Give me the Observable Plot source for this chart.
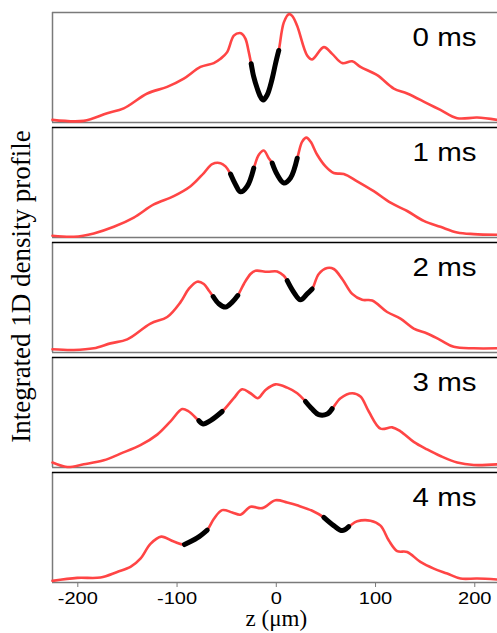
<!DOCTYPE html>
<html>
<head>
<meta charset="utf-8">
<script src="https://cdn.jsdelivr.net/npm/d3@7"></script>
<script src="https://cdn.jsdelivr.net/npm/@observablehq/plot@0.6"></script>
<style>
html, body { margin: 0; padding: 0; background: #fff; }
#chart { width: 497px; height: 633px; overflow: hidden; }
</style>
</head>
<body>
<div id="chart"></div>
<script>
// ---- data ----
const times = [0, 1, 2, 3, 4];
const timeLabels = ["0 ms", "1 ms", "2 ms", "3 ms", "4 ms"];
const xTicks = [-200, -100, 0, 100, 200];

const z0 = [-225.5,-194,-170.4,-153.7,-130,-110,-93.2,-76.4,-63,-56.2,-49.5,-42.8,-36.8,-34.4,-31,-27.7,-25.3,-22.7,-19.2,-15.9,-13.2,-9.2,-4.1,-0.8,2.5,7.6,12.6,16,21,31.1,36.2,47.9,56.3,66.4,76.5,84.8,101.7,118.4,131.9,152,165.4,182.3,202.4,222.6];
const d0 = [2.4,1.5,8.4,12.9,26.4,32.4,39.9,50.5,54,57.9,64,79,81.4,80.4,76,64,53.4,41.4,30.9,23.4,20.5,25,40,53.4,65.5,91,98.5,97,88,61,57.4,68.5,62.4,54,55.6,50.5,43,30.9,26.4,17.4,11.4,3.9,4.5,2.4];

const z1 = [-225.5,-204,-183.9,-163.7,-143.6,-123.4,-103.3,-86.4,-73,-64.6,-56.2,-51.2,-46.1,-41.1,-36.1,-29.3,-22.7,-17.6,-12.6,-7.6,-4.1,0.9,7.6,14.3,21.1,26.1,30.4,34.5,41.2,49.6,57.9,68,81.5,98.2,115.1,131.9,148.6,165.4,182.3,199,222.6];
const d1 = [1.6,0.7,3.7,9.7,18.1,30.1,37.6,46.6,58.6,66.7,67.6,64.6,57.7,48.2,41.5,46.6,63.1,75.2,79.1,72.1,67.6,57.2,49.6,54.1,72.1,87.2,90.8,87.2,75.2,64.6,58.6,57.7,51.1,42.1,31.6,24.1,15.1,9.7,4.6,3.1,2.5];

const z2 = [-225.5,-204,-183.9,-167.1,-150.2,-126.8,-109.9,-96.5,-88.2,-79.7,-73,-68,-63.6,-57.9,-51.2,-44.4,-38.8,-32.7,-26,-21,-9.2,0.9,7.6,11,17.6,24.4,31.1,36.2,42.8,51.3,57.9,66.4,76.5,86.5,96.6,111.7,125.1,138.5,152,165.4,178.8,199,222.6];
const d2 = [2.9,2.3,3.8,8.3,11.9,26.3,32.3,45.8,57.8,64.4,62.3,56.3,50.9,44.3,41.3,45.8,51.8,62.3,71.4,74.3,73.4,73.7,69.8,65.3,54.8,47.9,53.3,57.8,71.4,76.8,75.9,66.9,53.3,47.9,47.3,36.8,30.8,21.8,17.3,11.3,5.2,3.8,3.8];

const z3 = [-225.5,-210.7,-194,-173.8,-157,-136.9,-120,-106.6,-94.8,-88.2,-78.1,-73.7,-66.3,-54.5,-42.8,-34.4,-26,-18.6,-10.9,-0.8,11,21.1,29.4,36.2,42.8,51.3,56.3,64.7,76.5,84.8,93.2,105,116.8,125.1,138.5,152,165.4,182.3,199,222.6];
const d3v = [4.5,0.5,2.9,6.5,12.6,20.3,29.9,41.9,53.1,50.9,42.6,39.6,42.6,50.9,63,71.1,67.5,63,70.5,75.6,72.6,67.5,60,53.1,48,48.6,53.4,63,67.5,64.5,50.9,35.3,36.5,32.9,23.3,16.4,10.4,4.5,2.3,2.9];

const z4 = [-225.5,-200.6,-177.1,-160.3,-146.9,-136.9,-126.8,-116,-103.3,-92.5,-79.7,-69.6,-63,-54.5,-44.4,-36.1,-26,-14.2,-0.8,11,22.7,36.2,47.9,57.9,66.4,73,81.5,94.9,105,113.4,121.8,131.9,145.2,158.7,172.2,185.6,202.4,222.6];
const d4 = [1.5,4.2,4.5,9.6,14.1,21.6,35.1,41.7,37.2,34.5,40.5,47.7,57.7,65.8,63.7,61.6,68.8,67.6,74.8,72.7,69.7,65.2,59.2,51.7,47.2,50.8,55.6,56.2,51.7,38.2,28.6,27.7,18.7,12.6,8.1,3.6,3.6,2.7];

// dark-soliton dip ranges (z, µm) drawn in black
const dips0 = [[-25.3, 2.5]];
const dips1 = [[-46.1, -22.7], [-4.1, 21.1]];
const dips2 = [[-63.6, -38.8], [11, 36.2]];
const dips3 = [[-78.1, -54.5], [29.4, 56.3]];
const dips4 = [[-92.5, -69.6], [47.9, 73]];

// ---- build tables ----
const zs = [z0, z1, z2, z3, z4];
const ds = [d0, d1, d2, d3v, d4];
const dips = [dips0, dips1, dips2, dips3, dips4];

const rows = [];
const blackRows = [];
times.forEach((t, i) => {
  zs[i].forEach((z, j) => rows.push({t, z, v: ds[i][j]}));
  dips[i].forEach(([a, b], k) => {
    zs[i].forEach((z, j) => {
      if (z >= a - 1e-6 && z <= b + 1e-6) blackRows.push({t, seg: `${t}-${k}`, z, v: ds[i][j]});
    });
  });
});
const labelRows = times.map((t, i) => ({t, label: timeLabels[i]}));

const xDomain = [-225.5, 222.9];
const yDomain = [0, 100];
const grey = "#7a7a7a";

const plot = Plot.plot({
  width: 497,
  height: 633,
  marginLeft: 52,
  marginRight: 0,
  marginTop: 10,
  marginBottom: 49,
  style: {fontFamily: "'Liberation Sans', Arial, sans-serif", fontSize: "17px", color: "#000", background: "#fff", overflow: "visible"},
  x: {domain: xDomain, ticks: xTicks, tickSize: 5, tickPadding: 4, label: null, tickFormat: d => String(d)},
  y: {domain: yDomain, axis: null},
  fy: {domain: times, axis: null, paddingInner: 0.041, paddingOuter: 0},
  marks: [
    Plot.ruleY([0], {stroke: grey, strokeWidth: 1.5}),
    Plot.ruleX([xDomain[0]], {stroke: grey, strokeWidth: 1.5}),
    Plot.ruleY(times.map(t => ({t})), {y: () => yDomain[1], fy: "t", stroke: d => d.t === 0 ? grey : "#000", strokeWidth: 1.5}),
    Plot.line(rows, {x: "z", y: "v", fy: "t", stroke: "#ff4545", strokeWidth: 2.6, curve: "catmull-rom"}),
    Plot.line(blackRows, {x: "z", y: "v", fy: "t", z: "seg", stroke: "#000", strokeWidth: 5, strokeLinecap: "round", curve: "catmull-rom"}),
    Plot.text(labelRows, {x: () => 169.5, y: () => 77, fy: "t", text: "label", fontSize: 25, textAnchor: "middle", fill: "#000"}),
    Plot.text([{t: 2}], {x: () => -256.5, y: () => 60, fy: "t", text: () => "Integrated 1D density profile", rotate: -90, fontSize: 27, fontFamily: "'Liberation Serif', 'Times New Roman', serif", textAnchor: "middle", fill: "#000"}),
    Plot.text([{t: 4}], {x: () => 0, y: () => -33, fy: "t", text: () => "z (μm)", fontSize: 23, fontFamily: "'Liberation Serif', 'Times New Roman', serif", textAnchor: "middle", fill: "#000"})
  ]
});

document.getElementById("chart").appendChild(plot);

// grey tick marks
plot.querySelectorAll('[aria-label="x-axis tick"], [aria-label="x-axis tick"] path').forEach(el => el.setAttribute("stroke", grey));

// horizontal stretch of the sans-serif texts, as in the reference
const stretch = 1.18;
Array.from(plot.querySelectorAll("text")).forEach(el => {
  const txt = el.textContent.replace("−", "-");
  if (!(/ms$/.test(txt) || /^-?\d+$/.test(txt))) return;
  const g = document.createElementNS("http://www.w3.org/2000/svg", "g");
  el.parentNode.insertBefore(g, el);
  g.appendChild(el);
  const b = g.getBBox();
  const cx = b.x + b.width / 2;
  g.setAttribute("transform", `translate(${cx},0) scale(${stretch},1) translate(${-cx},0)`);
});
</script>
</body>
</html>
